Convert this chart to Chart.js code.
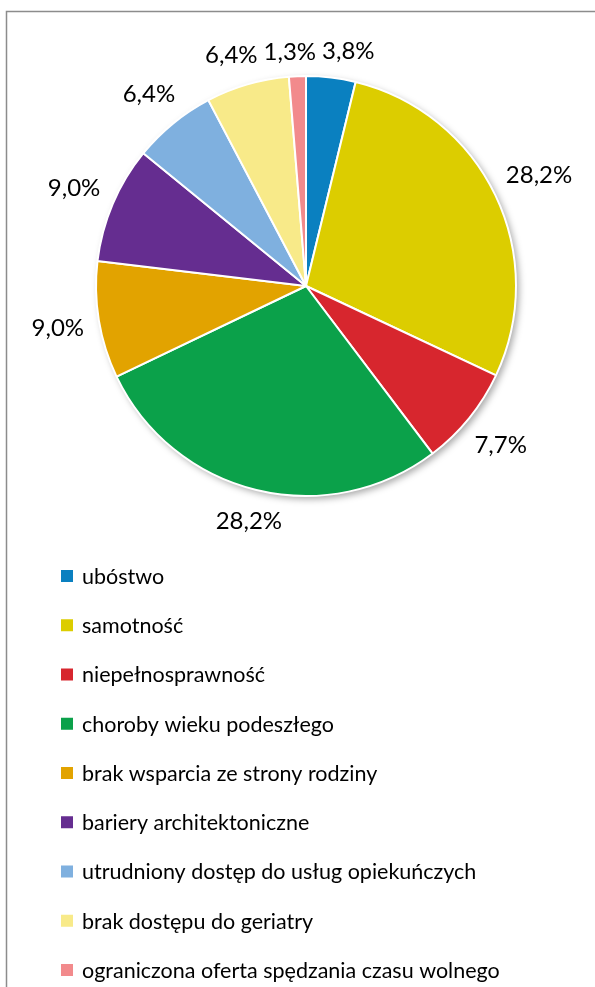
<!DOCTYPE html>
<html><head><meta charset="utf-8">
<script src="https://cdn.jsdelivr.net/npm/chart.js@4"></script>
<style>html,body{margin:0;padding:0;background:#fff;}canvas{display:block;}</style>
</head><body>
<canvas id="c" width="595" height="987"></canvas>
<script>
const categories = ["ubóstwo","samotność","niepełnosprawność","choroby wieku podeszłego","brak wsparcia ze strony rodziny","bariery architektoniczne","utrudniony dostęp do usług opiekuńczych","brak dostępu do geriatry","ograniczona oferta spędzania czasu wolnego"];
const values = [3.8, 28.2, 7.7, 28.2, 9.0, 9.0, 6.4, 6.4, 1.3];
const valueLabels = ["3,8%","28,2%","7,7%","28,2%","9,0%","9,0%","6,4%","6,4%","1,3%"];
const colors = ["#0A80C0","#DCCD00","#D7262E","#0BA14A","#E2A300","#652D90","#7FB0DF","#F8EA89","#F28A8C"];
const LABEL_FONT = '24px Lato, "Open Sans", sans-serif';
const LEGEND_FONT = '21.5px Lato, "Open Sans", sans-serif';

const decor = {
  id:'decor',
  beforeDraw(chart){
    const ctx = chart.ctx;
    ctx.save();
    ctx.strokeStyle = '#8c8c8c'; ctx.lineWidth = 1.5;
    ctx.beginPath(); ctx.moveTo(6.5, 1000); ctx.lineTo(6.5, 11.5); ctx.lineTo(600, 11.5); ctx.stroke();
    ctx.restore();
  },
  beforeDatasetsDraw(chart){
    const a = chart.getDatasetMeta(0).data[0];
    if (!a) return;
    const ctx = chart.ctx;
    ctx.save();
    ctx.shadowColor = 'rgba(0,0,0,0.35)'; ctx.shadowBlur = 7; ctx.shadowOffsetX = 3; ctx.shadowOffsetY = 3;
    ctx.fillStyle = '#fff';
    ctx.beginPath(); ctx.arc(a.x, a.y, a.outerRadius, 0, Math.PI * 2); ctx.fill();
    ctx.restore();
  },
  afterDraw(chart){
    const ctx = chart.ctx;
    const meta = chart.getDatasetMeta(0);
    ctx.save();
    ctx.font = LABEL_FONT; ctx.fillStyle = '#000'; ctx.textAlign = 'center'; ctx.textBaseline = 'middle';
    const h = 20;
    const boxes = meta.data.map((arc, i) => {
      const p = arc.getProps(['x','y','startAngle','endAngle','outerRadius'], true);
      const mid = (p.startAngle + p.endAngle) / 2;
      const cx = Math.cos(mid), sy = Math.sin(mid);
      const w = ctx.measureText(valueLabels[i]).width;
      const ext = Math.abs(cx) * w / 2 + Math.abs(sy) * h / 2;
      const R = p.outerRadius + 14 + ext;
      return { x: p.x + cx * R, y: p.y + sy * R, w, text: valueLabels[i] };
    });
    for (let it = 0; it < 20; it++) {
      for (let a = 0; a < boxes.length; a++) for (let b = 0; b < boxes.length; b++) {
        if (a === b) continue;
        const A = boxes[a], B = boxes[b];
        if (A.x > B.x || Math.abs(A.y - B.y) >= h) continue;
        const need = (A.x + A.w / 2 + 6) - (B.x - B.w / 2);
        if (need > 0) { A.x -= need / 2; B.x += need / 2; }
      }
    }
    boxes.forEach(b => ctx.fillText(b.text, b.x, b.y + 1));
    // legend
    ctx.font = LEGEND_FONT;
    ctx.textAlign = 'left';
    categories.forEach((name, i) => {
      const y = 576 + i * 49.25;
      ctx.fillStyle = colors[i];
      ctx.fillRect(61, y - 6, 12, 12);
      ctx.fillStyle = '#000';
      ctx.fillText(name, 82, y + 1);
    });
    ctx.restore();
  }
};

new Chart(document.getElementById('c'), {
  type: 'pie',
  data: { labels: categories, datasets: [{ data: values, backgroundColor: colors, borderColor: '#fff', borderWidth: 2 }] },
  options: {
    responsive: false, animation: false,
    layout: { padding: { top: 75, bottom: 490, left: 95, right: 78 } },
    plugins: { legend: { display: false }, tooltip: { enabled: false } }
  },
  plugins: [decor]
});
</script>
</body></html>
